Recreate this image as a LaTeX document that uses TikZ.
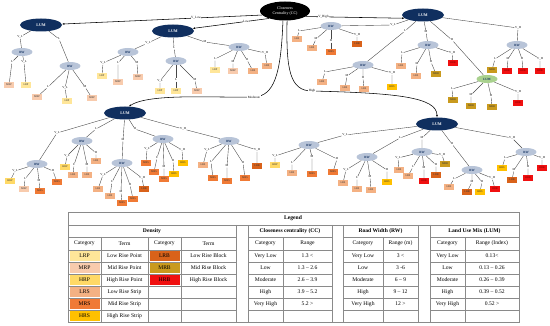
\documentclass[tikz,border=0pt]{standalone}
\usepackage{fontspec}
\setmainfont{Liberation Serif}
\usetikzlibrary{shapes.geometric,arrows.meta}
\definecolor{navy}{HTML}{102F5F}
\definecolor{rwc}{HTML}{B8C4D8}
\definecolor{glc}{HTML}{A9D18E}
\definecolor{cLRP}{HTML}{FFE699}
\definecolor{cMRP}{HTML}{F8CBAD}
\definecolor{cHRP}{HTML}{FFD966}
\definecolor{cLRS}{HTML}{F4B183}
\definecolor{cMRS}{HTML}{F07A35}
\definecolor{cHRS}{HTML}{FFC000}
\definecolor{cLRB}{HTML}{D9621A}
\definecolor{cMRB}{HTML}{C99A1E}
\definecolor{cHRB}{HTML}{F01010}
\definecolor{lgline}{HTML}{8A8A8A}
\tikzset{
  ccroot/.style={ellipse, fill=black, text=white, inner sep=0pt, minimum width=50pt, minimum height=19pt, font=\fontsize{4}{4.6}\selectfont, align=center},
  lumn/.style={ellipse, fill=navy, text=white, inner sep=0pt, minimum width=42pt, minimum height=13pt, font=\fontsize{4}{4.4}\selectfont\bfseries},
  glumn/.style={ellipse, fill=glc, text=navy, inner sep=0pt, minimum width=21pt, minimum height=8pt, font=\fontsize{3.2}{3.6}\selectfont\bfseries},
  rwn/.style={ellipse, fill=rwc, text=navy, inner sep=0pt, minimum width=21pt, minimum height=8pt, font=\fontsize{3.2}{3.6}\selectfont\bfseries},
  leafn/.style={rectangle, inner sep=0pt, minimum width=10.5pt, minimum height=5.5pt, font=\fontsize{2.7}{3}\selectfont, text=black!80},
  lbln/.style={inner sep=0.4pt, font=\fontsize{3}{3.2}\selectfont},
  tedge/.style={draw=black!72, line width=0.38pt},
  redge/.style={draw=black, line width=0.55pt, -{Latex[length=2.4pt,width=1.9pt]}},
  rlbl/.style={inner sep=0.5pt, fill=white, font=\fontsize{3.2}{3.6}\selectfont},
  tLRP/.style={fill=cLRP}, tMRP/.style={fill=cMRP}, tHRP/.style={fill=cHRP},
  tLRS/.style={fill=cLRS}, tMRS/.style={fill=cMRS}, tHRS/.style={fill=cHRS},
  tLRB/.style={fill=cLRB}, tMRB/.style={fill=cMRB}, tHRB/.style={fill=cHRB, text=red!45!black},
  lgl/.style={draw=lgline, line width=0.5pt},
  lgt/.style={inner sep=0pt, font=\fontsize{5.6}{6.4}\selectfont},
  lgb/.style={inner sep=0pt, font=\fontsize{5.6}{6.4}\selectfont\bfseries}
}
\newcommand\RWnode[5]{%
  \node[lbln] (#2l) at (#3) {#5};
  \node[rwn] (#2) at (#4) {RW};
  \draw[tedge] (#1) -- (#2l) -- (#2);}
\newcommand\LF[6]{%
  \node[lbln] (#2l) at (#3) {#6};
  \node[leafn,t#5] (#2) at (#4) {#5};
  \draw[tedge] (#1) -- (#2l) -- (#2);}
\begin{document}
\begin{tikzpicture}[x=1pt,y=-1pt]
\useasboundingbox (0,0) rectangle (550,326);
% ---------- main nodes
\node[ccroot] (cc) at (285,11) {Closeness\\Centrality (CC)};
\node[lumn] (lumA) at (41,25) {LUM};
\node[lumn] (lumB) at (173,31) {LUM};
\node[lumn] (lumC) at (423,15) {LUM};
\node[lumn] (lumD) at (125,113) {LUM};
\node[lumn] (lumE) at (437,124) {LUM};
% ---------- root edges
\draw[redge] (cc.190) -- node[rlbl,pos=0.33]{V\_Low} (lumA);
\draw[redge] (cc.205) -- node[rlbl,pos=0.3]{Low} (lumB);
\draw[redge] (cc.-15) -- node[rlbl,pos=0.18]{V\_High} (lumC.190);
\draw[redge] (cc.258) .. controls (281,75) and (274,96) .. (254,97) node[rlbl]{Moderate}
   .. controls (215,98) and (150,93) .. (lumD.60);
\draw[redge] (cc.282) .. controls (286,70) and (290,91) .. (312,91) node[rlbl]{High}
   .. controls (395,93) and (437,97) .. (lumE.north);
% ---------- subtree A
\RWnode{lumA}{A1}{20,37}{22,52}{V\_L}
\RWnode{lumA}{A2}{59,39}{70,66}{L}
\LF{A1}{A1a}{12,62}{9,85}{MRP}{L}
\LF{A1}{A1b}{24,62}{26,85}{LRP}{V\_L}
\LF{A2}{A2a}{48,87}{37,97}{MRP}{L}
\LF{A2}{A2b}{65,88}{67,101}{LRP}{V\_L}
\LF{A2}{A2c}{85,87}{92,98}{MRP}{M}
% ---------- subtree B
\RWnode{lumB}{B1}{148,43}{128,52}{V\_L}
\RWnode{lumB}{B2}{174,48}{176,61}{L}
\RWnode{lumB}{B3}{205,42}{239,47}{M}
\LF{B1}{B1a}{103,63}{102,76}{LRP}{V\_L}
\LF{B1}{B1b}{118,63}{118,82}{MRP}{L}
\LF{B1}{B1c}{137,63}{138,77}{MRP}{M}
\LF{B2}{B2a}{160,81}{160,91}{LRP}{V\_L}
\LF{B2}{B2b}{176,80}{176,91}{LRP}{L}
\LF{B2}{B2c}{195,80}{197,91}{MRP}{M}
\LF{B3}{B3a}{215,59}{215,70}{LRP}{L}
\LF{B3}{B3b}{233,62}{233,71}{MRP}{M}
\LF{B3}{B3c}{247,60}{253,71}{LRS}{H}
\LF{B3}{B3d}{265,53}{267,66}{LRS}{V\_H}
% ---------- subtree C
\RWnode{lumC}{C1}{393,25}{331,26}{V\_L}
\RWnode{lumC}{C2}{405,31}{363,65}{L}
\RWnode{lumC}{C3}{426,32}{428,45}{M}
\node[lbln] (C4l) at (452,40) {H};
\node[glumn] (C4) at (487,79) {LUM};
\draw[tedge] (lumC) -- (C4l) -- (C4);
\RWnode{lumC}{C5}{518,28}{517,45}{V\_H}
\LF{C1}{C1a}{299,31}{297,39}{LRS}{L}
\LF{C1}{C1b}{316,39}{312,48}{LRS}{M}
\LF{C1}{C1c}{331,41}{331,52}{MRS}{H}
\LF{C1}{C1d}{357,35}{357,44}{LRB}{V\_H}
\LF{C2}{C2a}{325,72}{322,82}{LRS}{L}
\LF{C2}{C2b}{347,76}{345,88}{LRS}{M}
\LF{C2}{C2c}{363,78}{364,89}{LRS}{H}
\LF{C2}{C2d}{392,73}{392,87}{HRS}{V\_H}
\LF{C3}{C3a}{402,53}{401,66}{LRS}{L}
\LF{C3}{C3b}{417,64}{416,76}{LRS}{M}
\LF{C3}{C3c}{431,62}{436,74}{MRB}{H}
\LF{C3}{C3d}{452,53}{453,63}{HRB}{V\_H}
\LF{C5}{C5a}{495,59}{492,70}{MRB}{L}
\LF{C5}{C5b}{508,59}{507,71}{HRB}{M}
\LF{C5}{C5c}{522,59}{523,71}{HRB}{H}
\LF{C5}{C5d}{540,59}{540,71}{HRB}{V\_H}
\LF{C4}{C4a}{452,89}{453,100}{MRB}{L}
\LF{C4}{C4b}{471,95}{471,106}{MRB}{M}
\LF{C4}{C4c}{491,96}{492,107}{MRB}{H}
\LF{C4}{C4d}{518,92}{518,103}{HRB}{V\_H}
% ---------- subtree D
\RWnode{lumD}{D1}{57,133}{37,164}{V\_L}
\RWnode{lumD}{D2}{96,129}{82,141}{L}
\RWnode{lumD}{D3}{123,140}{122,163}{M}
\RWnode{lumD}{D4}{135,129}{163,139}{H}
\RWnode{lumD}{D5}{183,129}{229,141}{V\_H}
\LF{D1}{D1a}{15,171}{10,181}{HRP}{V\_L}
\LF{D1}{D1b}{25,179}{24,189}{MRP}{L}
\LF{D1}{D1c}{39,181}{40,191}{MRS}{M}
\LF{D1}{D1d}{53,171}{57,182}{MRS}{H}
\LF{D2}{D2a}{67,156}{65,167}{HRP}{V\_L}
\LF{D2}{D2b}{74,165}{73,175}{LRS}{L}
\LF{D2}{D2c}{87,165}{87,175}{LRS}{M}
\LF{D2}{D2d}{96,153}{96,161}{LRS}{H}
\LF{D3}{D3a}{103,175}{98,189}{LRS}{V\_L}
\LF{D3}{D3b}{112,182}{110,196}{LRS}{L}
\LF{D3}{D3c}{121,192}{122,203}{MRS}{M}
\LF{D3}{D3d}{130,185}{133,199}{MRS}{H}
\LF{D3}{D3e}{142,178}{144,189}{LRB}{V\_H}
\LF{D4}{D4a}{147,149}{146,163}{MRS}{V\_L}
\LF{D4}{D4b}{157,158}{154,172}{MRS}{L}
\LF{D4}{D4c}{164,167}{164,179}{MRS}{M}
\LF{D4}{D4d}{173,161}{174,174}{HRS}{H}
\LF{D4}{D4e}{182,150}{183,163}{HRS}{V\_H}
\LF{D5}{D5a}{207,150}{203,165}{LRS}{V\_L}
\LF{D5}{D5b}{211,162}{213,178}{MRS}{L}
\LF{D5}{D5c}{227,166}{227,181}{MRS}{M}
\LF{D5}{D5d}{243,163}{245,178}{MRS}{H}
\LF{D5}{D5e}{257,150}{257,166}{LRB}{V\_H}
% ---------- subtree E
\RWnode{lumE}{E1}{345,135}{309,145}{V\_L}
\RWnode{lumE}{E2}{400,138}{367,157}{L}
\RWnode{lumE}{E3}{422,138}{422,152}{M}
\RWnode{lumE}{E4}{452,144}{472,170}{H}
\RWnode{lumE}{E5}{512,138}{526,152}{V\_H}
\LF{E1}{E1a}{275,156}{275,165}{HRP}{V\_L}
\LF{E1}{E1b}{292,163}{292,173}{LRS}{L}
\LF{E1}{E1c}{312,157}{312,174}{MRS}{M}
\LF{E1}{E1d}{337,159}{333,172}{MRS}{H}
\LF{E2}{E2a}{346,170}{343,183}{LRS}{V\_L}
\LF{E2}{E2b}{357,178}{357,189}{LRS}{L}
\LF{E2}{E2c}{370,177}{371,190}{LRS}{M}
\LF{E2}{E2d}{387,170}{387,182}{HRS}{H}
\LF{E3}{E3a}{398,158}{399,170}{LRS}{V\_L}
\LF{E3}{E3b}{413,167}{408,176}{LRS}{L}
\LF{E3}{E3c}{424,168}{424,181}{HRB}{M}
\LF{E3}{E3d}{436,165}{436,175}{LRB}{H}
\LF{E3}{E3e}{442,155}{445,164}{MRB}{V\_H}
\LF{E4}{E4a}{454,179}{449,187}{LRS}{L}
\LF{E4}{E4b}{472,182}{467,192}{LRB}{M}
\LF{E4}{E4c}{482,182}{480,192}{HRS}{H}
\LF{E4}{E4d}{492,178}{495,189}{HRB}{V\_H}
\LF{E5}{E5a}{505,158}{502,168}{HRS}{L}
\LF{E5}{E5b}{514,170}{512,180}{LRB}{M}
\LF{E5}{E5c}{528,167}{528,178}{HRB}{H}
\LF{E5}{E5d}{542,158}{542,168}{HRB}{V\_H}
% ---------- legend
\foreach \c [count=\i] in {cLRP,cMRP,cHRP,cLRS,cMRS,cHRS}
  \fill[\c] (69.5,{239.2+12*\i}) rectangle (99.5,{248.8+12*\i});
\foreach \c [count=\i] in {cLRB,cMRB,cHRB}
  \fill[\c] (149.5,{239.2+12*\i}) rectangle (179.5,{248.8+12*\i});
\draw[lgl] (68,212) rectangle (519,322);
\draw[lgl] (68,225) -- (519,225);
\foreach \y in {237,250,262,274,286,298,310}
  \foreach \a/\b in {68/236,248/332,343/418,430/519}
    \draw[lgl] (\a,\y) -- (\b,\y);
\foreach \x in {236,248,332,343,418,430}
  \draw[lgl] (\x,225) -- (\x,322);
\foreach \x in {101,148,181,283,383,465}
  \draw[lgl] (\x,237) -- (\x,322);
\node[lgb] (lgT) at (293,218.5) {Legend};
\node[lgb] (lgH1) at (152,231) {Density};
\node[lgb] (lgH2) at (290,231) {Closeness centrality (CC)};
\node[lgb] (lgH3) at (380.5,231) {Road Width (RW)};
\node[lgb] (lgH4) at (474.5,231) {Land Use Mix (LUM)};
\foreach \t/\x [count=\i] in {Category/84.5,Term/124.5,Category/164.5,Term/208.5,Category/265.5,Range/307.5,Category/363,Range (m)/400.5,Category/447.5,Range (Index)/492}
  \node[lgt] (lgc\i) at (\x,243.5) {\t};
\foreach \a/\b [count=\i] in {LRP/Low Rise Point,MRP/Mid Rise Point,HRP/High Rise Point,LRS/Low Rise Strip,MRS/Mid Rise Strip,HRS/High Rise Strip}{
  \node[lgt] (dA\i) at (84.5,{244+12*\i}) {\a};
  \node[lgt] (dB\i) at (124.5,{244+12*\i}) {\b};}
\foreach \a/\b [count=\i] in {LRB/Low Rise Block,MRB/Mid Rise Block,HRB/High Rise Block}{
  \node[lgt] (dC\i) at (164.5,{244+12*\i}) {\a};
  \node[lgt] (dD\i) at (208.5,{244+12*\i}) {\b};}
\foreach \a/\b [count=\i] in {Very Low/1.3 <,Low/1.3 -- 2.6,Moderate/2.6 -- 3.9,High/3.9 -- 5.2,Very High/5.2 >}{
  \node[lgt] (cA\i) at (265.5,{244+12*\i}) {\a};
  \node[lgt] (cB\i) at (307.5,{244+12*\i}) {\b};}
\foreach \a/\b [count=\i] in {Very Low/3 <,Low/3 -6,Moderate/6 -- 9,High/9 -- 12,Very High/12 >}{
  \node[lgt] (rA\i) at (363,{244+12*\i}) {\a};
  \node[lgt] (rB\i) at (400.5,{244+12*\i}) {\b};}
\foreach \a/\b [count=\i] in {Very Low/0.13<,Low/0.13 -- 0.26,Moderate/0.26 -- 0.39,High/0.39 -- 0.52,Very High/0.52 >}{
  \node[lgt] (uA\i) at (447.5,{244+12*\i}) {\a};
  \node[lgt] (uB\i) at (492,{244+12*\i}) {\b};}
\end{tikzpicture}
\end{document}
